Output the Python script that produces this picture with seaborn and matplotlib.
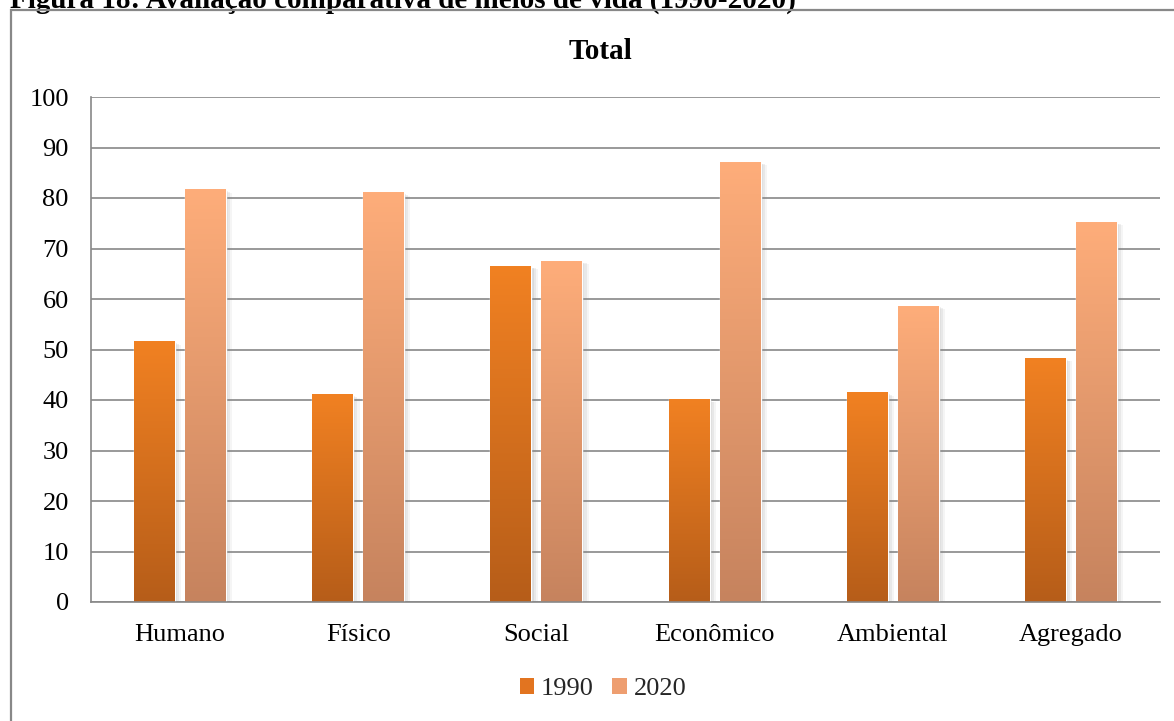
import numpy as np
import pandas as pd
import seaborn as sns
import matplotlib.pyplot as plt
import matplotlib.patheffects as pe
from matplotlib.colors import LinearSegmentedColormap, to_rgb
from matplotlib.patches import Patch, Rectangle

plt.switch_backend("Agg")

# Data
CATEGORIES = ["Humano", "Físico", "Social", "Econômico", "Ambiental", "Agregado"]
YEARS = ["1990", "2020"]
VALUES_1990 = [51.5, 41.0, 66.5, 40.1, 41.4, 48.2]
VALUES_2020 = [81.6, 81.0, 67.5, 87.1, 58.6, 75.2]
Y_TICKS = list(range(0, 101, 10))

CAPTION = "Figura 18: Avaliação comparativa de meios de vida (1990-2020)"
TITLE = "Total"

# Gradient colours (top, bottom) per year
GRADIENTS = {
    "1990": ("#F18122", "#B65D19"),
    "2020": ("#FEAD7A", "#C6835E"),
}
LEGEND_COLORS = {"1990": "#E27420", "2020": "#EE9E70"}
GRID_GRAY = "#888888"

W, H = 1174, 721


def build_frame():
    """Long-format table for seaborn."""
    return pd.DataFrame({
        "dimensao": CATEGORIES * 2,
        "ano": [YEARS[0]] * len(CATEGORIES) + [YEARS[1]] * len(CATEGORIES),
        "valor": VALUES_1990 + VALUES_2020,
    })


def paint_gradients(ax):
    """Overlay a vertical gradient on every bar, with a soft shadow."""
    soft_shadow = [
        pe.SimplePatchShadow(offset=(1.5, -1), shadow_rgbFace="#8a8a8a", alpha=0.15),
        pe.SimplePatchShadow(offset=(3, -1.5), shadow_rgbFace="#8a8a8a", alpha=0.12),
        pe.SimplePatchShadow(offset=(4.5, -2), shadow_rgbFace="#8a8a8a", alpha=0.08),
        pe.Normal(),
    ]
    for container, year in zip(ax.containers, YEARS):
        top, bottom = GRADIENTS[year]
        cmap = LinearSegmentedColormap.from_list(year, [to_rgb(bottom), to_rgb(top)])
        grad = np.linspace(0, 1, 256).reshape(-1, 1)
        for bar in container:
            bar.set_path_effects(soft_shadow)
            x0, w, h = bar.get_x(), bar.get_width(), bar.get_height()
            ax.imshow(grad, cmap=cmap, origin="lower", aspect="auto",
                      extent=[x0, x0 + w, 0, h], zorder=bar.get_zorder() + 0.1,
                      interpolation="bilinear")


def main():
    sns.set_theme(style="white")
    plt.rcParams["font.family"] = ["Liberation Serif", "DejaVu Serif"]

    df = build_frame()
    fig = plt.figure(figsize=(W / 100, H / 100), dpi=100)
    ax = fig.add_axes([91 / W, 1 - 602 / H, (1160 - 91) / W, (602 - 97) / H])

    palette = {y: GRADIENTS[y][0] for y in YEARS}
    sns.barplot(data=df, x="dimensao", y="valor", hue="ano", hue_order=YEARS,
                order=CATEGORIES, palette=palette, width=0.572, gap=0.196,
                errorbar=None, legend=False, saturation=1, ax=ax)
    paint_gradients(ax)

    ax.set_xlim(-0.5, len(CATEGORIES) - 0.5)
    ax.set_ylim(0, 100)
    ax.set_yticks(Y_TICKS)
    ax.set_xlabel("")
    ax.set_ylabel("")
    ax.set_axisbelow(True)
    ax.yaxis.grid(True, color=GRID_GRAY, linewidth=1.2)
    ax.xaxis.grid(False)
    for side in ["top", "right"]:
        ax.spines[side].set_visible(False)
    for side in ["left", "bottom"]:
        ax.spines[side].set_color(GRID_GRAY)
        ax.spines[side].set_linewidth(1.2)
    ax.tick_params(axis="y", length=0, pad=16, labelsize=19, colors="black")
    ax.tick_params(axis="x", length=0, pad=16, labelsize=19, colors="black")

    # Outer chart frame (runs off the right and bottom edges)
    fig.patches.append(Rectangle((10.5 / W, -0.2), 1.5, 1.2 - 10 / H,
                                 transform=fig.transFigure, fill=False,
                                 edgecolor=GRID_GRAY, linewidth=1.6, zorder=5))

    # Document caption, mostly cut off at the top as in the source page
    fig.text(10 / W, 1 - 8 / H, CAPTION, ha="left", va="baseline",
             fontsize=21, fontweight="bold", color="black", zorder=4)
    fig.text(600 / W, 1 - 59 / H, TITLE, ha="center", va="baseline",
             fontsize=21, fontweight="bold", color="black")

    handles = [Patch(facecolor=LEGEND_COLORS[y], edgecolor="none", label=y) for y in YEARS]
    fig.legend(handles=handles, loc="center", bbox_to_anchor=(603 / W, 1 - 689 / H),
               ncol=2, frameon=False, fontsize=19, handlelength=0.55,
               handleheight=0.55, handletextpad=0.25, columnspacing=0.7)

    fig.savefig("out.png", dpi=100, facecolor="white")


if __name__ == "__main__":
    main()
